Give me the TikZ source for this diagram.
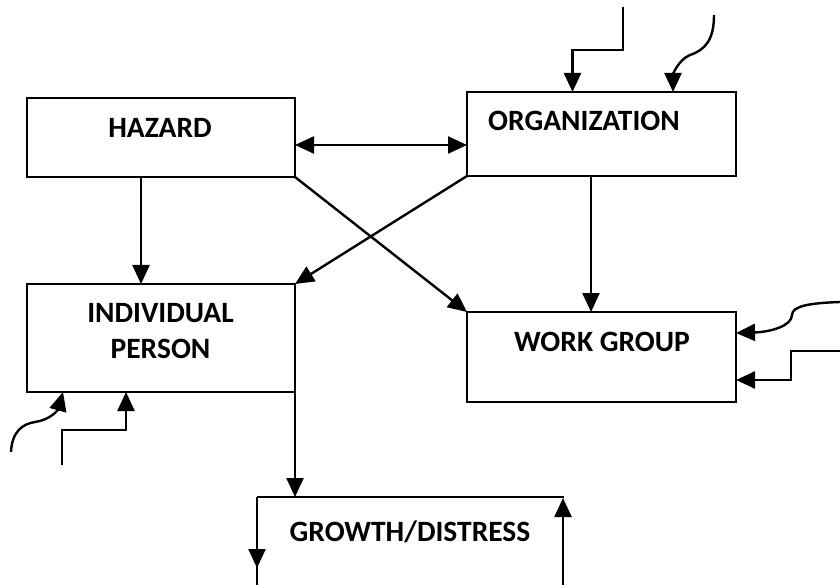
\documentclass[tikz,border=0pt]{standalone}
\usepackage{fontspec}
\setmainfont{Carlito}
\usetikzlibrary{arrows.meta,calc}
\begin{document}
\begin{tikzpicture}[x=1pt,y=-1pt,line width=2.4pt,
  box/.style={draw,rectangle,inner sep=0pt,outer sep=0pt,line width=2.2pt},
  lbl/.style={font=\fontsize{29.5}{36}\selectfont\bfseries,inner sep=0pt,outer sep=0pt},
  arr/.style={-{Triangle[length=19pt,width=17pt]}},
  darr/.style={{Triangle[length=19pt,width=17pt]}-{Triangle[length=19pt,width=17pt]}}]
\useasboundingbox (0,0) rectangle (840,585);
% boxes
\node[box,minimum width=268pt,minimum height=79pt] (haz) at (161,137.5) {};
\node[box,minimum width=269pt,minimum height=84pt] (org) at (601.5,134) {};
\node[box,minimum width=268pt,minimum height=108pt] (ind) at (161,338) {};
\node[box,minimum width=269pt,minimum height=90pt] (wg) at (601.5,357) {};
% labels
\node[lbl,anchor=base] (hazt) at (160,137.3) {HAZARD};
\node[lbl,anchor=base] (orgt) at (584,130.7) {ORGANIZATION};
\node[lbl,align=center] (indt) at (160.5,331.5) {INDIVIDUAL\\PERSON};
\node[lbl,anchor=base] (wgt) at (602,351.7) {WORK GROUP};
\node[lbl,anchor=base] (grt) at (410,541) {GROWTH/DISTRESS};
% growth open box
\coordinate (gl) at (257,497);
\coordinate (gr) at (564,497);
\coordinate (gbl) at (257,585);
\coordinate (gla) at (257,568);
\coordinate (gbr) at (563,585);
\coordinate (gra) at (563,498);
\coordinate (gin) at (295,497);
\draw (gl) -- (gr);
\draw (gl) -- (gbl);
\draw[arr] (gl) -- (gla);
\draw[arr] (gbr) -- (gra);
% connectors
\draw[darr] ($(haz.east)+(0,7.5)$) -- ($(org.west)+(0,11)$);
\draw[arr] ($(haz.south)+(-20,0)$) -- ($(ind.north)+(-20,0)$);
\draw[arr] ($(org.south)+(-10.5,0)$) -- ($(wg.north)+(-10.5,0)$);
\draw[arr] (haz.south east) -- (wg.north west);
\draw[arr] (org.south west) -- (ind.north east);
\draw[arr] (ind.south east) -- (gin);
% external inputs: top
\coordinate (t1s) at (623,7);
\coordinate (t1e) at ($(org.north)+(-29,0)$);
\draw[arr] (t1s) -- (623,50) -- (572.5,50) -- (t1e);
\coordinate (t2s) at (714,15);
\coordinate (t2e) at ($(org.north)+(71.5,0)$);
\draw[arr] (t2s) .. controls (714,40) and (705,50) .. (690,55) .. controls (678,60) and (673,75) .. (t2e);
% external inputs: right
\coordinate (r1s) at (840,302);
\coordinate (r1e) at ($(wg.east)+(0,-24)$);
\draw[arr] (r1s) .. controls (810,303) and (792,306) .. (792,315) .. controls (792,326) and (770,332) .. (r1e);
\coordinate (r2s) at (840,351);
\coordinate (r2e) at ($(wg.east)+(0,23)$);
\draw[arr] (r2s) -- (791,351) -- (791,380) -- (r2e);
% external inputs: bottom left
\coordinate (b1s) at (11,452);
\coordinate (b1e) at ($(ind.south west)+(36,0)$);
\draw[arr] (b1s) .. controls (12,432) and (22,424) .. (35,422) .. controls (50,420) and (58,410) .. (b1e);
\coordinate (b2s) at (62,465);
\coordinate (b2e) at ($(ind.south west)+(99,0)$);
\draw[arr] (b2s) -- (62,430) -- (126,430) -- (b2e);
\end{tikzpicture}
\end{document}
